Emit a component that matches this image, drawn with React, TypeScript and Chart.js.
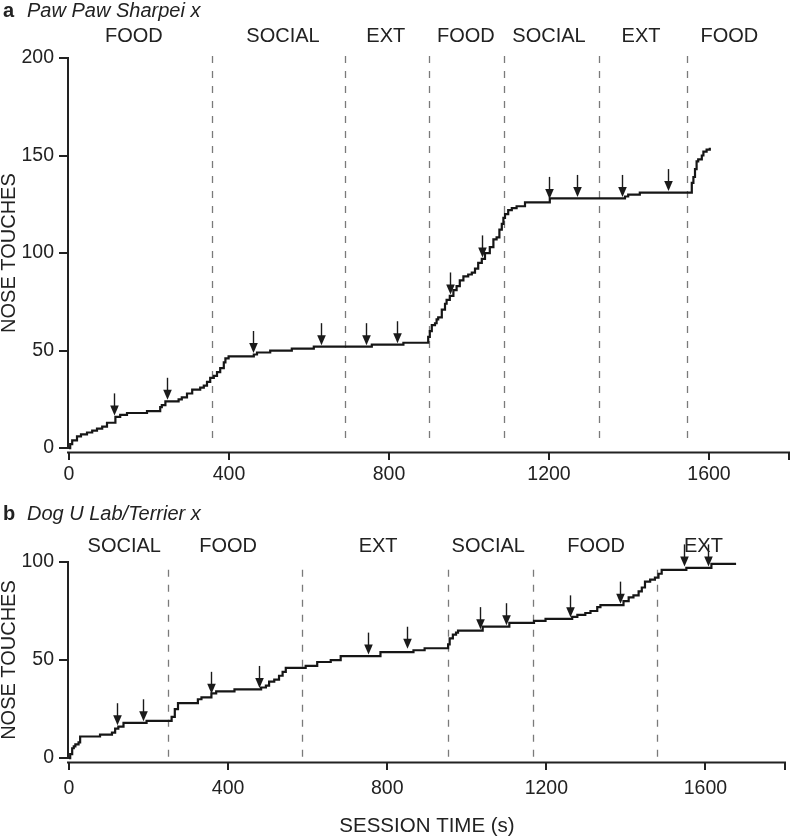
import React, { useEffect, useRef } from 'react';
import { Chart, registerables } from 'chart.js';
Chart.register(...registerables);

const FONT = '"Liberation Sans", Arial, Helvetica, sans-serif';
const INK = '#222222';

// ---------- Panel a : Paw Paw Sharpei x ----------
const timeA = [0, 3, 8, 20, 30, 45, 58, 70, 83, 95, 116, 128, 145, 195, 228, 232, 241, 274, 282, 295, 308, 328, 337, 345, 353, 362, 370, 378, 387, 391, 399, 462, 470, 503, 557, 612, 757, 836, 898, 902, 907, 915, 919, 923, 932, 940, 944, 952, 961, 969, 977, 986, 998, 1007, 1015, 1023, 1032, 1040, 1052, 1061, 1069, 1076, 1082, 1086, 1090, 1098, 1107, 1119, 1140, 1202, 1390, 1398, 1427, 1557, 1561, 1565, 1569, 1573, 1582, 1586, 1594, 1602];
const touchesA = [0, 2, 4, 6, 7, 8, 9, 10, 11, 13, 16, 17, 18, 19, 21, 22, 24, 25, 26, 28, 30, 31, 32, 34, 36, 37, 39, 41, 44, 46, 47, 48, 49, 50, 51, 52, 53, 54, 57, 60, 63, 64, 66, 67, 71, 74, 76, 78, 81, 83, 86, 88, 89, 90, 92, 95, 97, 100, 103, 107, 108, 112, 115, 118, 120, 122, 123, 124, 126, 128, 129, 130, 131, 136, 139, 143, 147, 148, 150, 152, 153, 154];
const phaseBoundsA = [357, 690, 900, 1087, 1325, 1545];
const phaseNamesA = ['FOOD', 'SOCIAL', 'EXT', 'FOOD', 'SOCIAL', 'EXT', 'FOOD'];
const phaseLabelTimeA = [162, 535, 792, 992, 1200, 1430, 1651];
const arrowTimeA = [113, 245, 459, 630, 743, 819, 952, 1032, 1201, 1269, 1382, 1498];
const arrowTouchesA = [16, 24, 48, 52, 52, 53, 78, 97, 127, 128, 128, 131];
const yTicksA = [0, 50, 100, 150, 200];

// ---------- Panel b : Dog U Lab/Terrier x ----------
const timeB = [0, 3, 8, 12, 16, 24, 28, 78, 108, 116, 124, 137, 195, 258, 266, 274, 324, 333, 358, 370, 416, 483, 495, 503, 516, 528, 537, 545, 595, 624, 658, 683, 783, 866, 894, 953, 957, 965, 973, 978, 1040, 1107, 1169, 1198, 1265, 1278, 1298, 1311, 1328, 1336, 1394, 1407, 1419, 1432, 1440, 1448, 1461, 1473, 1482, 1490, 1552, 1615, 1677];
const touchesB = [0, 2, 5, 6, 7, 8, 11, 12, 13, 15, 16, 18, 19, 21, 25, 28, 30, 31, 33, 34, 35, 36, 37, 39, 40, 42, 44, 46, 47, 49, 50, 52, 54, 55, 56, 58, 61, 63, 64, 65, 67, 69, 70, 71, 72, 73, 74, 75, 77, 78, 80, 82, 83, 85, 87, 90, 91, 92, 94, 96, 97, 99, 99];
const phaseBoundsB = [250, 587, 952, 1167, 1477];
const phaseNamesB = ['SOCIAL', 'FOOD', 'EXT', 'SOCIAL', 'FOOD', 'EXT'];
const phaseLabelTimeB = [139, 400, 777, 1054, 1325, 1595];
const arrowTimeB = [120, 187, 357, 478, 751, 849, 1034, 1098, 1259, 1386, 1546, 1607];
const arrowTouchesB = [16, 18, 32, 35, 52, 55, 65, 67, 71, 78, 97, 97];
const yTicksB = [0, 50, 100];

// ---------- shared x axis ----------
const xTicks = [0, 400, 800, 1200, 1600, 1800];
const xTickLabels = ['0', '400', '800', '1200', '1600', ''];

type PanelCfg = {
  letter: string;
  title: string;
  titleBaseline: number;
  phaseBaseline: number;
  bounds: number[];
  phaseNames: string[];
  phaseTimes: number[];
  arrowT: number[];
  arrowN: number[];
  dashTop: number;
  dashBottom: number;
  yMaxTick: number;
  xTitle?: string;
  xTitleBaseline?: number;
};

function makeOverlay(cfg: PanelCfg) {
  return {
    id: 'overlay',
    beforeDatasetsDraw(chart: any) {
      const ctx = chart.ctx;
      const xs = chart.scales.x;
      const ys = chart.scales.y;
      ctx.save();
      ctx.strokeStyle = '#7a7a7a';
      ctx.lineWidth = 1.3;
      ctx.setLineDash([7, 8]);
      const y0 = ys.getPixelForValue(cfg.dashTop);
      const y1 = ys.getPixelForValue(cfg.dashBottom);
      for (const b of cfg.bounds) {
        const x = Math.round(xs.getPixelForValue(b)) + 0.5;
        ctx.beginPath();
        ctx.moveTo(x, y0);
        ctx.lineTo(x, y1);
        ctx.stroke();
      }
      ctx.restore();
    },
    afterDatasetsDraw(chart: any) {
      const ctx = chart.ctx;
      const xs = chart.scales.x;
      const ys = chart.scales.y;
      ctx.save();
      ctx.strokeStyle = '#1a1a1a';
      ctx.fillStyle = '#1a1a1a';
      ctx.lineWidth = 1.4;
      const len = 22, headH = 10, headW = 4.3;
      cfg.arrowT.forEach((t, i) => {
        const x = Math.round(xs.getPixelForValue(t)) + 0.5;
        const tip = ys.getPixelForValue(cfg.arrowN[i]) - 1.5;
        ctx.beginPath();
        ctx.moveTo(x, tip - len);
        ctx.lineTo(x, tip - headH + 1);
        ctx.stroke();
        ctx.beginPath();
        ctx.moveTo(x - headW, tip - headH);
        ctx.lineTo(x + headW, tip - headH);
        ctx.lineTo(x, tip);
        ctx.closePath();
        ctx.fill();
      });
      ctx.restore();
    },
    afterDraw(chart: any) {
      const ctx = chart.ctx;
      const xs = chart.scales.x;
      const ys = chart.scales.y;
      const area = chart.chartArea;
      ctx.save();
      // axis lines
      ctx.strokeStyle = INK;
      ctx.lineWidth = 2;
      const yAxisX = xs.getPixelForValue(0) - 1;
      ctx.beginPath();
      ctx.moveTo(yAxisX, ys.getPixelForValue(0) + 1);
      ctx.lineTo(yAxisX, ys.getPixelForValue(cfg.yMaxTick) - 1);
      ctx.stroke();
      ctx.beginPath();
      ctx.moveTo(xs.getPixelForValue(0) - 2, area.bottom + 0.5);
      ctx.lineTo(xs.getPixelForValue(1800) + 1, area.bottom + 0.5);
      ctx.stroke();

      ctx.fillStyle = INK;
      // panel letter + title
      ctx.textAlign = 'left';
      ctx.textBaseline = 'alphabetic';
      ctx.font = `bold 20px ${FONT}`;
      ctx.fillText(cfg.letter, 3, cfg.titleBaseline);
      ctx.font = `italic 20px ${FONT}`;
      ctx.fillText(cfg.title, 27, cfg.titleBaseline);

      // phase labels
      ctx.textAlign = 'center';
      ctx.font = `20px ${FONT}`;
      cfg.phaseNames.forEach((name, i) => {
        ctx.fillText(name, xs.getPixelForValue(cfg.phaseTimes[i]), cfg.phaseBaseline);
      });

      // y axis title
      ctx.save();
      ctx.translate(9.5, (ys.getPixelForValue(0) + ys.getPixelForValue(cfg.yMaxTick)) / 2);
      ctx.rotate(-Math.PI / 2);
      ctx.textAlign = 'center';
      ctx.textBaseline = 'middle';
      ctx.font = `20px ${FONT}`;
      ctx.fillText('NOSE TOUCHES', 0, 0);
      ctx.restore();

      // x axis title
      if (cfg.xTitle) {
        ctx.textAlign = 'center';
        ctx.textBaseline = 'alphabetic';
        ctx.font = `20.5px ${FONT}`;
        ctx.fillText(cfg.xTitle, (area.left + area.right) / 2, cfg.xTitleBaseline as number);
      }
      ctx.restore();
    },
  };
}

function makeConfig(
  times: number[],
  counts: number[],
  yTicks: number[],
  yMax: number,
  padTop: number,
  xHeight: number,
  xPad: number,
  cfg: PanelCfg
): any {
  return {
    type: 'line',
    data: {
      datasets: [
        {
          data: times.map((t, i) => ({ x: t, y: counts[i] })),
          stepped: 'before',
          borderColor: '#161616',
          borderWidth: 2.2,
          pointRadius: 0,
          fill: false,
          tension: 0,
        },
      ],
    },
    options: {
      responsive: false,
      animation: false,
      events: [],
      layout: { padding: { top: padTop, right: 3, left: 0, bottom: 0 } },
      plugins: { legend: { display: false }, tooltip: { enabled: false } },
      scales: {
        x: {
          type: 'linear',
          min: 0,
          max: 1800,
          afterBuildTicks: (s: any) => {
            s.ticks = xTicks.map((v) => ({ value: v }));
          },
          afterFit: (s: any) => {
            s.height = xHeight;
          },
          border: { display: false },
          grid: { drawOnChartArea: false, drawTicks: true, tickLength: 8, color: INK, lineWidth: 2 },
          ticks: {
            padding: xPad,
            color: INK,
            maxRotation: 0,
            autoSkip: false,
            font: { family: FONT, size: 19.5 },
            callback: (v: number) => xTickLabels[xTicks.indexOf(v)],
          },
        },
        y: {
          type: 'linear',
          min: -2,
          max: yMax,
          afterBuildTicks: (s: any) => {
            s.ticks = yTicks.map((v) => ({ value: v }));
          },
          afterFit: (s: any) => {
            s.width = 69;
          },
          border: { display: false },
          grid: { drawOnChartArea: false, drawTicks: true, tickLength: 10, color: INK, lineWidth: 2 },
          ticks: {
            padding: 5,
            color: INK,
            autoSkip: false,
            font: { family: FONT, size: 19.5 },
            callback: (v: number) => String(v),
          },
        },
      },
    },
    plugins: [makeOverlay(cfg)],
  };
}

export default function App() {
  const refA = useRef<HTMLCanvasElement>(null);
  const refB = useRef<HTMLCanvasElement>(null);

  useEffect(() => {
    document.body.style.margin = '0';
    const cfgA: PanelCfg = {
      letter: 'a',
      title: 'Paw Paw Sharpei x',
      titleBaseline: 17,
      phaseBaseline: 42,
      bounds: phaseBoundsA,
      phaseNames: phaseNamesA,
      phaseTimes: phaseLabelTimeA,
      arrowT: arrowTimeA,
      arrowN: arrowTouchesA,
      dashTop: 201,
      dashBottom: 1.5,
      yMaxTick: 200,
    };
    const cfgB: PanelCfg = {
      letter: 'b',
      title: 'Dog U Lab/Terrier x',
      titleBaseline: 30,
      phaseBaseline: 62,
      bounds: phaseBoundsB,
      phaseNames: phaseNamesB,
      phaseTimes: phaseLabelTimeB,
      arrowT: arrowTimeB,
      arrowN: arrowTouchesB,
      dashTop: 96,
      dashBottom: 0.5,
      yMaxTick: 100,
      xTitle: 'SESSION TIME (s)',
      xTitleBaseline: 342,
    };
    const chartA = new Chart(refA.current as HTMLCanvasElement, makeConfig(timeA, touchesA, yTicksA, 200, 58, 38, 3, cfgA));
    const chartB = new Chart(refB.current as HTMLCanvasElement, makeConfig(timeB, touchesB, yTicksB, 100, 72, 75, 7, cfgB));
    return () => {
      chartA.destroy();
      chartB.destroy();
    };
  }, []);

  return (
    <div style={{ position: 'relative', width: 792, height: 837, background: '#fff', overflow: 'hidden' }}>
      <canvas ref={refA} width={792} height={490} style={{ position: 'absolute', left: 0, top: 0, display: 'block' }} />
      <canvas ref={refB} width={792} height={347} style={{ position: 'absolute', left: 0, top: 490, display: 'block' }} />
    </div>
  );
}
